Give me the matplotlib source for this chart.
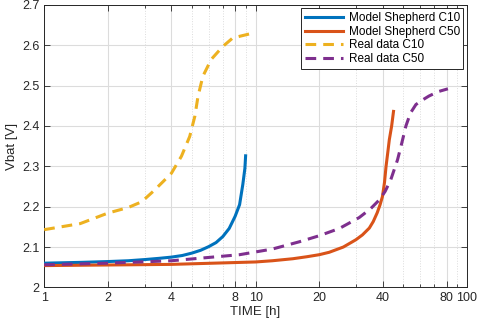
import matplotlib
matplotlib.use('Agg')
import matplotlib.pyplot as plt
from matplotlib.ticker import FixedLocator, NullFormatter

plt.rcParams['font.family'] = ['Liberation Sans', 'DejaVu Sans']

# Model Shepherd C10
t_m10 = [1.0, 1.5, 2.0, 2.5, 3.0, 3.5, 4.0, 4.5, 5.0, 5.5, 6.0, 6.5, 7.0, 7.5, 8.0, 8.4, 8.7, 8.9, 8.97]
v_m10 = [2.060, 2.062, 2.064, 2.066, 2.069, 2.072, 2.075, 2.079, 2.085, 2.092, 2.101, 2.111, 2.126, 2.146, 2.176, 2.205, 2.255, 2.295, 2.326]

# Model Shepherd C50
t_m50 = [1.0, 4.0, 10.0, 12.0, 15.0, 17.5, 20.0, 22.3, 26.0, 29.8, 32.0, 34.5, 36.0, 37.6, 38.8,
         39.8, 40.7, 41.4, 42.2, 42.9, 44.0, 44.9]
v_m50 = [2.054, 2.057, 2.063, 2.066, 2.071, 2.076, 2.081, 2.087, 2.100, 2.118, 2.130, 2.147, 2.163, 2.185, 2.205,
         2.225, 2.260, 2.300, 2.335, 2.366, 2.400, 2.436]

# Real data C10
t_r10 = [1.0, 1.48, 2.0, 2.5, 2.89, 3.28, 3.65, 4.0, 4.46, 4.88, 5.16, 5.34, 5.63, 6.17, 7.0, 7.8, 9.36]
v_r10 = [2.143, 2.158, 2.184, 2.198, 2.212, 2.238, 2.262, 2.283, 2.325, 2.374, 2.424, 2.473, 2.523, 2.565, 2.597, 2.618, 2.628]

# Real data C50
t_r50 = [1.0, 2.0, 4.0, 8.4, 12.0, 16.1, 20.0, 24.9, 30.9, 35.0, 38.5, 41.0, 43.6, 46.9, 49.0, 51.4, 54.0, 57.3,
         61.0, 66.0, 73.0, 81.2]
v_r50 = [2.056, 2.060, 2.066, 2.081, 2.095, 2.113, 2.128, 2.146, 2.173, 2.195, 2.217, 2.238, 2.267, 2.316, 2.355, 2.400, 2.432, 2.453,
         2.463, 2.474, 2.485, 2.492]

xticks = [1, 2, 4, 8, 10, 20, 40, 80, 100]
xminor = [3, 5, 6, 7, 9, 30, 50, 60, 70, 90]
yticks = [2.0, 2.1, 2.2, 2.3, 2.4, 2.5, 2.6, 2.7]

fig = plt.figure(figsize=(4.8, 3.24), dpi=100)
ax = fig.add_axes([0.092, 0.113, 0.881, 0.872])

ax.plot(t_m10, v_m10, color='#0072BD', lw=2.2, label='Model Shepherd C10', zorder=3)
ax.plot(t_m50, v_m50, color='#D95319', lw=2.2, label='Model Shepherd C50', zorder=3)
ax.plot(t_r10, v_r10, color='#EDB120', lw=2.2, ls=(0, (3.5, 2.3)), label='Real data C10', zorder=3)
ax.plot(t_r50, v_r50, color='#7E2F8E', lw=2.2, ls=(0, (3.5, 2.3)), label='Real data C50', zorder=3)

ax.set_xscale('log')
ax.set_xlim(1, 100)
ax.set_ylim(2.0, 2.7)
ax.xaxis.set_major_locator(FixedLocator(xticks))
ax.xaxis.set_minor_locator(FixedLocator(xminor))
ax.xaxis.set_minor_formatter(NullFormatter())
ax.set_xticklabels([str(v) for v in xticks])
ax.set_yticks(yticks)
ax.set_yticklabels(['2', '2.1', '2.2', '2.3', '2.4', '2.5', '2.6', '2.7'])

ax.grid(True, which='major', color='#dcdcdc', lw=0.8)
ax.grid(True, which='minor', axis='x', color='#dcdcdc', lw=0.7, ls=':')
ax.set_axisbelow(True)

ax.tick_params(which='both', direction='in', top=True, right=True, labelsize=9,
               colors='#262626', width=0.6)
ax.tick_params(which='major', length=4)
ax.tick_params(which='minor', length=2.5)
for s in ax.spines.values():
    s.set_color('#262626')
    s.set_linewidth(0.7)

ax.set_xlabel('TIME [h]', fontsize=9.5, color='#262626', labelpad=1)
ax.set_ylabel('Vbat [V]', fontsize=9.5, color='#262626', labelpad=3)

leg = ax.legend(loc='upper right', fontsize=8.5, frameon=True, fancybox=False,
                edgecolor='#262626', framealpha=1, borderaxespad=0.3,
                handlelength=3.2, labelspacing=0.15, borderpad=0.3, handletextpad=0.5)
leg.get_frame().set_linewidth(0.7)

fig.savefig('out.png', dpi=100)
